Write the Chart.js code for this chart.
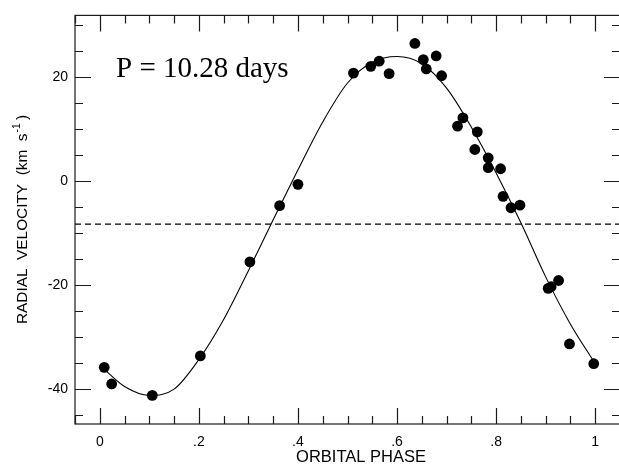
<!DOCTYPE html>
<html>
<head>
<meta charset="utf-8">
<script src="https://cdn.jsdelivr.net/npm/chart.js@4.4.1/dist/chart.umd.min.js"></script>
<style>
  html, body { margin: 0; padding: 0; background: #fff; overflow: hidden; }
  #wrap { width: 630px; height: 472px; }
</style>
</head>
<body>
<div id="wrap"><canvas id="rvChart" width="630" height="472"></canvas></div>
<script>
// observed points (phase, km/s)
const obsPhase = [0.009, 0.024, 0.106, 0.203, 0.303, 0.363, 0.400, 0.512, 0.547, 0.564,
                  0.584, 0.636, 0.653, 0.659, 0.679, 0.690, 0.722, 0.733, 0.757, 0.762,
                  0.784, 0.784, 0.809, 0.814, 0.830, 0.848, 0.905, 0.911, 0.926, 0.948, 0.997];
const obsVel   = [-35.8, -39.0, -41.2, -33.6, -15.5, -4.7, -0.6, 20.8, 22.1, 23.1,
                  20.7, 26.5, 23.4, 21.6, 24.1, 20.3, 10.6, 12.2, 6.1, 9.5,
                  4.5, 2.6, 2.4, -2.9, -5.1, -4.6, -20.6, -20.3, -19.1, -31.3, -35.1];

// fitted orbit
const fitPhase = [0.008, 0.05, 0.10, 0.15, 0.20, 0.25, 0.30, 0.35, 0.40, 0.45,
                  0.50, 0.55, 0.60, 0.65, 0.70, 0.75, 0.80, 0.85, 0.90, 0.95, 0.998];
const fitVel   = [-36.1, -39.5, -41.2, -40.0, -34.3, -26.6, -17.2, -7.4, 2.2, 11.4,
                  18.9, 22.9, 24.0, 22.6, 17.9, 10.4, 1.6, -8.0, -18.4, -27.5, -34.8];

const gammaVel = -8.25;   // systemic velocity (dashed)

const xTicks = [0, 0.2, 0.4, 0.6, 0.8, 1];
const xTickLabels = ['0', '.2', '.4', '.6', '.8', '1'];
const yTicks = [-40, -20, 0, 20];
const xMinor = [-0.05, 0, 0.05, 0.1, 0.15, 0.2, 0.25, 0.3, 0.35, 0.4, 0.45, 0.5, 0.55, 0.6, 0.65, 0.7, 0.75, 0.8, 0.85, 0.9, 0.95, 1, 1.05];
const yMinor = [-45, -40, -35, -30, -25, -20, -15, -10, -5, 0, 5, 10, 15, 20, 25, 30];

const X_MIN = -0.05, X_MAX = 1.05, Y_MIN = -46.7, Y_MAX = 31.9;

const sans = '"Liberation Sans", Arial, Helvetica, sans-serif';
const serif = '"Liberation Serif", "Times New Roman", serif';

// frame, inward ticks and texts
const framePlugin = {
    id: 'frame',
    afterDraw(chart) {
        const ctx = chart.ctx;
        const a = chart.chartArea;
        const xs = chart.scales.x, ys = chart.scales.y;
        ctx.save();
        ctx.strokeStyle = '#1a1a1a';
        ctx.lineWidth = 1.2;
        ctx.strokeRect(a.left, a.top, a.right - a.left, a.bottom - a.top);

        ctx.beginPath();
        xMinor.forEach(v => {
            const px = Math.round(xs.getPixelForValue(v)) + 0.5;
            const len = xTicks.some(t => Math.abs(t - v) < 1e-6) ? 16 : 8;
            ctx.moveTo(px, a.bottom); ctx.lineTo(px, a.bottom - len);
            ctx.moveTo(px, a.top); ctx.lineTo(px, a.top + len);
        });
        yMinor.forEach(v => {
            const py = Math.round(ys.getPixelForValue(v)) + 0.5;
            const len = yTicks.includes(v) ? 16 : 8;
            ctx.moveTo(a.left, py); ctx.lineTo(a.left + len, py);
            ctx.moveTo(a.right, py); ctx.lineTo(a.right - len, py);
        });
        ctx.stroke();

        // period label
        ctx.fillStyle = '#000';
        ctx.font = '29px ' + serif;
        ctx.textAlign = 'left';
        ctx.textBaseline = 'alphabetic';
        ctx.fillText('P = 10.28 days', 116, 77);

        // x title
        ctx.font = '16.5px ' + sans;
        ctx.textAlign = 'center';
        ctx.fillText('ORBITAL PHASE', 361, 462);

        // y title, rotated, with superscript
        ctx.save();
        ctx.translate(26.5, 324);
        ctx.rotate(-Math.PI / 2);
        ctx.textAlign = 'left';
        const main = 'RADIAL  VELOCITY  (km  s';
        ctx.font = '15px ' + sans;
        const wMain = ctx.measureText(main).width;
        const wClose = ctx.measureText(' )').width;
        ctx.font = '10px ' + sans;
        const wSup = ctx.measureText('-1').width;
        const total = wMain + wSup + wClose;
        const k = 209 / total;
        ctx.scale(k, 1);
        ctx.font = '15px ' + sans;
        ctx.fillText(main, 0, 0);
        ctx.font = '10px ' + sans;
        ctx.fillText('-1', wMain + 1, -7);
        ctx.font = '15px ' + sans;
        ctx.fillText(' )', wMain + wSup, 0);
        ctx.restore();

        ctx.restore();
    }
};

const chart = new Chart(document.getElementById('rvChart').getContext('2d'), {
    type: 'scatter',
    data: {
        datasets: [
            {
                label: 'observed',
                data: obsPhase.map((p, i) => ({ x: p, y: obsVel[i] })),
                pointRadius: 5.4,
                pointHoverRadius: 5.4,
                backgroundColor: '#000',
                borderWidth: 0,
                showLine: false
            },
            {
                label: 'fit',
                data: fitPhase.map((p, i) => ({ x: p, y: fitVel[i] })),
                showLine: true,
                pointRadius: 0,
                borderColor: '#000',
                borderWidth: 1.1,
                cubicInterpolationMode: 'monotone'
            },
            {
                label: 'gamma',
                data: [{ x: X_MIN, y: gammaVel }, { x: X_MAX, y: gammaVel }],
                showLine: true,
                pointRadius: 0,
                borderColor: '#000',
                borderWidth: 1.2,
                borderDash: [6, 4]
            }
        ]
    },
    options: {
        responsive: false,
        animation: false,
        layout: { padding: { top: 15, right: 10, left: 0, bottom: 0 } },
        plugins: { legend: { display: false }, tooltip: { enabled: false } },
        scales: {
            x: {
                type: 'linear',
                min: X_MIN, max: X_MAX,
                grid: { display: false, drawTicks: false },
                border: { display: false },
                afterBuildTicks: s => { s.ticks = xTicks.map(v => ({ value: v })); },
                afterFit: s => { s.height = 48; },
                ticks: {
                    color: '#000',
                    padding: 10,
                    maxRotation: 0,
                    font: { family: sans, size: 14 },
                    callback: v => xTickLabels[xTicks.findIndex(t => Math.abs(t - v) < 1e-6)]
                }
            },
            y: {
                type: 'linear',
                min: Y_MIN, max: Y_MAX,
                grid: { display: false, drawTicks: false },
                border: { display: false },
                afterBuildTicks: s => { s.ticks = yTicks.map(v => ({ value: v })); },
                afterFit: s => { s.width = 75; },
                ticks: {
                    color: '#000',
                    padding: 7,
                    font: { family: sans, size: 14 },
                    callback: v => String(v)
                }
            }
        }
    },
    plugins: [framePlugin]
});
</script>
</body>
</html>
